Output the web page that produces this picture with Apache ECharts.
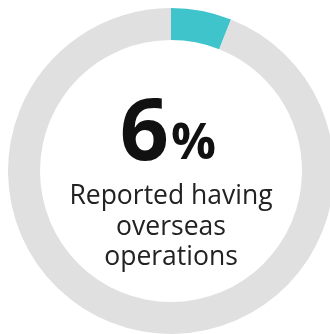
<!DOCTYPE html>
<html><head><meta charset="utf-8">
<script src="https://cdn.jsdelivr.net/npm/echarts@6/dist/echarts.min.js"></script>
<style>html,body{margin:0;padding:0;background:#fff}#c{width:330px;height:334px}</style>
</head><body><div id="c"></div>
<script>
var categories = ['Overseas operations', 'Other'];
var values = [6, 94];
var bigNumber = '6';
var unit = '%';
var caption = ['Reported having', 'overseas', 'operations'];
var colors = ['#40c4cc', '#e0e0e0'];

var chart = echarts.init(document.getElementById('c'), null, {renderer: 'canvas'});
chart.setOption({
  animation: false,
  series: [{
    type: 'pie',
    center: [171, 171],
    radius: [131, 163],
    startAngle: 90,
    clockwise: true,
    silent: true,
    label: {show: false},
    labelLine: {show: false},
    data: categories.map(function (c, i) { return {name: c, value: values[i], itemStyle: {color: colors[i]}}; })
  }],
  graphic: [
    {type: 'text', x: 169, y: 92, style: {text: bigNumber, font: 'bold 86px "Open Sans"', fill: '#111', align: 'right', verticalAlign: 'top'}},
    {type: 'text', x: 171, y: 120, style: {text: unit, font: 'bold 50px "Open Sans"', fill: '#111', align: 'left', verticalAlign: 'top'}},
    {type: 'text', x: 171, y: 183, style: {text: caption[0], font: '26.5px "Open Sans"', fill: '#222', align: 'center', verticalAlign: 'top'}},
    {type: 'text', x: 171, y: 214, style: {text: caption[1], font: '26.5px "Open Sans"', fill: '#222', align: 'center', verticalAlign: 'top'}},
    {type: 'text', x: 171, y: 244, style: {text: caption[2], font: '26.5px "Open Sans"', fill: '#222', align: 'center', verticalAlign: 'top'}}
  ]
});
</script></body></html>
